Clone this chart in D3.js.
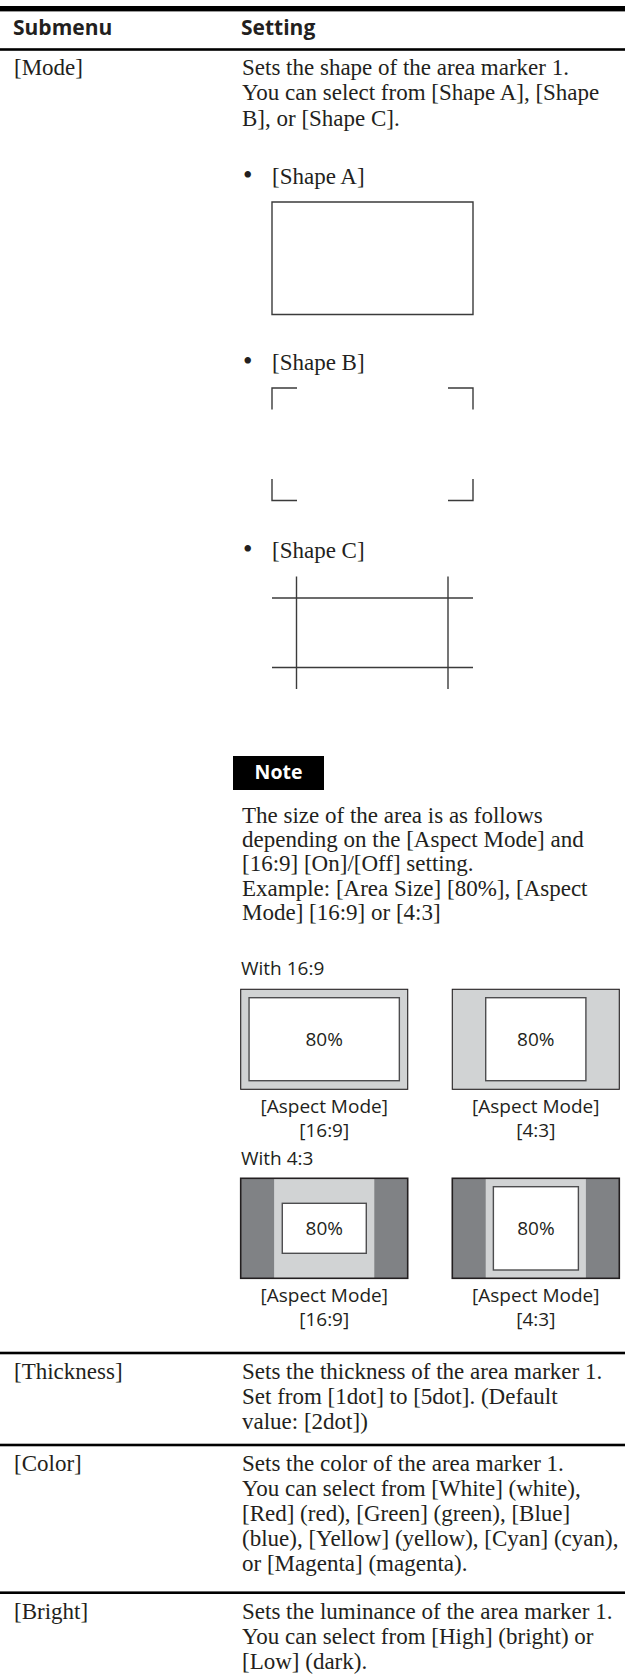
<!DOCTYPE html>
<html>
<head>
<meta charset="utf-8">
<script src="https://cdn.jsdelivr.net/npm/d3@7"></script>
<style>
  html, body { margin: 0; padding: 0; background: #ffffff; }
  svg { display: block; }
</style>
</head>
<body>
<svg id="page" width="625" height="1680"></svg>
<script>
// ---------------- DATA ----------------
const headers = ["Submenu", "Setting"];
const submenus = ["[Mode]", "[Thickness]", "[Color]", "[Bright]"];
const settingLines = [
  ["Sets the shape of the area marker 1.",
   "You can select from [Shape A], [Shape",
   "B], or [Shape C]."],
  ["Sets the thickness of the area marker 1.",
   "Set from [1dot] to [5dot]. (Default",
   "value: [2dot])"],
  ["Sets the color of the area marker 1.",
   "You can select from [White] (white),",
   "[Red] (red), [Green] (green), [Blue]",
   "(blue), [Yellow] (yellow), [Cyan] (cyan),",
   "or [Magenta] (magenta)."],
  ["Sets the luminance of the area marker 1.",
   "You can select from [High] (bright) or",
   "[Low] (dark)."]
];
const shapeLabels = ["[Shape A]", "[Shape B]", "[Shape C]"];
const shapeKinds = ["A", "B", "C"];
const noteTitle = "Note";
const noteLines = [
  "The size of the area is as follows",
  "depending on the [Aspect Mode] and",
  "[16:9] [On]/[Off] setting.",
  "Example: [Area Size] [80%], [Aspect",
  "Mode] [16:9] or [4:3]"
];
const aspectGroups = ["With 16:9", "With 4:3"];
const aspectModes = ["[16:9]", "[4:3]"];
const captionLabel = "[Aspect Mode]";
const areaSize = "80%";

// ---------------- LAYOUT ----------------
const W = 625;
const ink = "#231f20";
const serif = "'Liberation Serif', 'Times New Roman', serif";
const sans = "'Open Sans', 'Noto Sans', sans-serif";
const bodySize = 23;
const lineGap = 25.1;
const colX = [14, 242];

const rowRules = [49.5, 1353, 1445, 1592.7];   // rule above each row
const firstBaselineOffset = 25.8;

const svg = d3.select("#page");

// top thick rule
svg.append("rect").attr("x", 0).attr("y", 6).attr("width", W).attr("height", 5.4).attr("fill", "#000");

// header
svg.selectAll("text.hdr").data(headers).join("text")
  .attr("class", "hdr")
  .attr("x", (d, i) => colX[i] - 1)
  .attr("y", 35)
  .attr("font-family", sans).attr("font-weight", 700).attr("font-size", 21)
  .attr("fill", ink).text(d => d);

// row rules
svg.selectAll("rect.rule").data(rowRules).join("rect")
  .attr("class", "rule")
  .attr("x", 0).attr("width", W)
  .attr("y", d => d - 1.3).attr("height", 2.6)
  .attr("fill", "#000");

// rows
submenus.forEach((name, r) => {
  const y0 = rowRules[r] + firstBaselineOffset;
  svg.append("text")
    .attr("x", colX[0]).attr("y", y0)
    .attr("font-family", serif).attr("font-size", bodySize).attr("fill", ink)
    .text(name);
  svg.selectAll(null).data(settingLines[r]).join("text")
    .attr("x", colX[1]).attr("y", (d, i) => y0 + i * lineGap)
    .attr("font-family", serif).attr("font-size", bodySize).attr("fill", ink)
    .text(d => d);
});

// ---------------- SHAPES ----------------
const shapeX = d3.scaleLinear().domain([0, 1]).range([272, 473]);
const shapeLabelY = [184, 370, 558];
const shapeTopY = [202, 388, 576.5];
const shapeH = 112.5;
const stroke = "#3b3b3b";

shapeLabels.forEach((lab, i) => {
  svg.append("text").attr("x", 243).attr("y", shapeLabelY[i])
    .attr("font-family", serif).attr("font-size", 27).attr("fill", ink).text("\u2022");
  svg.append("text").attr("x", 272).attr("y", shapeLabelY[i])
    .attr("font-family", serif).attr("font-size", bodySize).attr("fill", ink).text(lab);

  const yS = d3.scaleLinear().domain([0, 1]).range([shapeTopY[i], shapeTopY[i] + shapeH]);
  const g = svg.append("g").attr("fill", "none").attr("stroke", stroke).attr("stroke-width", 1.4);
  const line = d3.line().x(d => shapeX(d[0])).y(d => yS(d[1]));
  const ax = 25 / 201, ay = 21.5 / shapeH;
  if (shapeKinds[i] === "A") {
    g.append("path").attr("d", line([[0,0],[1,0],[1,1],[0,1]]) + "Z");
  } else if (shapeKinds[i] === "B") {
    const corners = [
      [[0, ay],[0,0],[ax,0]],
      [[1-ax,0],[1,0],[1,ay]],
      [[0,1-ay],[0,1],[ax,1]],
      [[1-ax,1],[1,1],[1,1-ay]]
    ];
    g.selectAll("path").data(corners).join("path").attr("d", d => line(d));
  } else {
    const segs = [
      [[0, ay],[1, ay]],
      [[0, 1-ay],[1, 1-ay]],
      [[ax*0.98, 0],[ax*0.98, 1]],
      [[1-ax, 0],[1-ax, 1]]
    ];
    g.selectAll("path").data(segs).join("path").attr("d", d => line(d));
  }
});

// ---------------- NOTE ----------------
svg.append("rect").attr("x", 233).attr("y", 756).attr("width", 91).attr("height", 34).attr("fill", "#000");
svg.append("text").attr("x", 278.5).attr("y", 779).attr("text-anchor", "middle")
  .attr("font-family", sans).attr("font-weight", 700).attr("font-size", 19.5)
  .attr("fill", "#fff").text(noteTitle);
svg.selectAll("text.note").data(noteLines).join("text")
  .attr("class", "note")
  .attr("x", 242).attr("y", (d, i) => 822.7 + i * 24.3)
  .attr("font-family", serif).attr("font-size", bodySize).attr("fill", ink)
  .text(d => d);

// ---------------- ASPECT FIGURES ----------------
const figW = 167, figH = 100;
const figCols = [240.7, 452.3];
const figRows = [989.3, 1178.3];
const groupLabelY = [975, 1165];
const lightGray = "#d1d3d4", darkGray = "#808285";

// each figure: [group, mode] -> geometry in fractions of the outer box
const figSpecs = [
  { g: 0, m: 0, bar: 0,      inner: [0.050, 0.084, 0.950, 0.914] },
  { g: 0, m: 1, bar: 0,      inner: [0.200, 0.084, 0.800, 0.914] },
  { g: 1, m: 0, bar: 0.200,  inner: [0.249, 0.250, 0.752, 0.750] },
  { g: 1, m: 1, bar: 0.200,  inner: [0.246, 0.084, 0.755, 0.917] }
];

aspectGroups.forEach((lab, gi) => {
  svg.append("text").attr("x", 241).attr("y", groupLabelY[gi])
    .attr("font-family", sans).attr("font-size", 19).attr("fill", ink).text(lab);
});

figSpecs.forEach(f => {
  const x = d3.scaleLinear().domain([0, 1]).range([figCols[f.m], figCols[f.m] + figW]);
  const y = d3.scaleLinear().domain([0, 1]).range([figRows[f.g], figRows[f.g] + figH]);
  const g = svg.append("g");
  g.append("rect").attr("x", x(0)).attr("y", y(0)).attr("width", x(1) - x(0)).attr("height", y(1) - y(0))
    .attr("fill", lightGray);
  if (f.bar > 0) {
    [[0, f.bar], [1 - f.bar, 1]].forEach(b => {
      g.append("rect").attr("x", x(b[0])).attr("y", y(0)).attr("width", x(b[1]) - x(b[0])).attr("height", y(1) - y(0))
        .attr("fill", darkGray);
    });
  }
  g.append("rect").attr("x", x(0)).attr("y", y(0)).attr("width", x(1) - x(0)).attr("height", y(1) - y(0))
    .attr("fill", "none").attr("stroke", ink).attr("stroke-width", f.bar > 0 ? 1.6 : 1.1);
  const [ix0, iy0, ix1, iy1] = f.inner;
  g.append("rect").attr("x", x(ix0)).attr("y", y(iy0)).attr("width", x(ix1) - x(ix0)).attr("height", y(iy1) - y(iy0))
    .attr("fill", "#fff").attr("stroke", "#4d4d4f").attr("stroke-width", 1.4);
  g.append("text").attr("x", x((ix0 + ix1) / 2)).attr("y", y((iy0 + iy1) / 2) + 6.8)
    .attr("text-anchor", "middle").attr("font-family", sans).attr("font-size", 19).attr("fill", ink)
    .text(areaSize);
  g.append("text").attr("x", x(0.5)).attr("y", y(1) + 24)
    .attr("text-anchor", "middle").attr("font-family", sans).attr("font-size", 19).attr("fill", ink)
    .text(captionLabel);
  g.append("text").attr("x", x(0.5)).attr("y", y(1) + 47.5)
    .attr("text-anchor", "middle").attr("font-family", sans).attr("font-size", 19).attr("fill", ink)
    .text(aspectModes[f.m]);
});
</script>
</body>
</html>
